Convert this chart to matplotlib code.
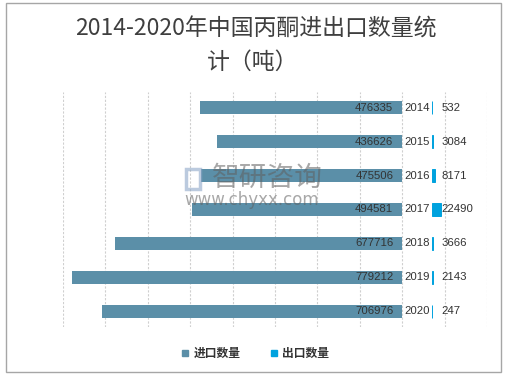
import numpy as np
import matplotlib
matplotlib.use("Agg")
import matplotlib.pyplot as plt
from matplotlib.patches import Rectangle

plt.rcParams['font.family'] = ['Noto Sans CJK SC', 'DejaVu Sans']

years = ['2014', '2015', '2016', '2017', '2018', '2019', '2020']
imports = [476335, 436626, 475506, 494581, 677716, 779212, 706976]
exports = [532, 3084, 8171, 22490, 3666, 2143, 247]
title = '2014-2020年中国丙酮进出口数量统\n计（吨）'
legend_labels = ['进口数量', '出口数量']

imp_color = '#5B8FA8'
exp_color = '#00A2DE'
txt_color = '#333333'

W, H = 506, 376
fig = plt.figure(figsize=(W / 100, H / 100), dpi=100)

# outer border
fig.patches.append(Rectangle((6 / W, 1 - 372 / H), 495 / W, 369 / H,
                             transform=fig.transFigure, fill=False,
                             edgecolor='#A6A6A6', linewidth=1.0))

ax = fig.add_axes([63 / W, 1 - 327 / H, (487 - 63) / W, (327 - 92) / H])
ax.set_xlim(-800000, 200000)
ax.set_ylim(6.47, -0.47)

y = np.arange(len(years))
exp_offset = 70000

ax.barh(y, [-v for v in imports], height=0.38, color=imp_color, zorder=2)
ax.barh(y, exports, left=exp_offset, height=0.38, color=exp_color,
        edgecolor=exp_color, linewidth=0.7, zorder=2)

lab_font = dict(family=['Liberation Sans', 'DejaVu Sans'], fontsize=8.2, color=txt_color)
for i in range(len(years)):
    ax.text(-21000, y[i], f'{imports[i]}', ha='right', va='center', zorder=3, **lab_font)
    ax.text(4500, y[i], years[i], ha='left', va='center', zorder=3, **lab_font)
    ax.text(92000, y[i], f'{exports[i]}', ha='left', va='center', zorder=3, **lab_font)

ax.set_xticks(np.arange(-800000, 200001, 100000))
ax.grid(axis='x', color='#CFCFCF', linestyle=(0, (2, 1.5)), linewidth=0.8, zorder=0)
ax.tick_params(left=False, bottom=False, labelleft=False, labelbottom=False)
for s in ax.spines.values():
    s.set_visible(False)

# title
fig.text(256 / W, 1 - 29 / H, '2014-2020年中国丙酮进出口数量统', ha='center', va='center',
         fontsize=16.5, color='#3F3F3F')
fig.text(253 / W, 1 - 62 / H, '计（吨）', ha='center', va='center',
         fontsize=16.5, color='#3F3F3F')

# legend
for xs, xt, lab, c in [(185, 194, legend_labels[0], imp_color), (274, 282, legend_labels[1], exp_color)]:
    fig.patches.append(Rectangle(((xs - 3) / W, 1 - 356 / H), 6 / W, 6 / H,
                                 transform=fig.transFigure, color=c))
    fig.text(xt / W, 1 - 353 / H, lab, ha='left', va='center', fontsize=8.5,
             fontweight='bold', color=txt_color)

# watermark
fig.text(212 / W, 1 - 178 / H, '智研咨询', ha='left', va='center', fontsize=20,
         color='#606060', alpha=0.55, zorder=10)
fig.text(184 / W, 1 - 200 / H, 'www.chyxx.com', ha='left', va='center', fontsize=12,
         family=['DejaVu Sans'], color='#606060', alpha=0.55, zorder=10)
fig.patches.append(Rectangle((186 / W, 1 - 189 / H), 14 / W, 20 / H,
                             transform=fig.transFigure, fill=False,
                             edgecolor='#8FA8C8', linewidth=2.5, alpha=0.6))

fig.savefig('out.png', dpi=100)
